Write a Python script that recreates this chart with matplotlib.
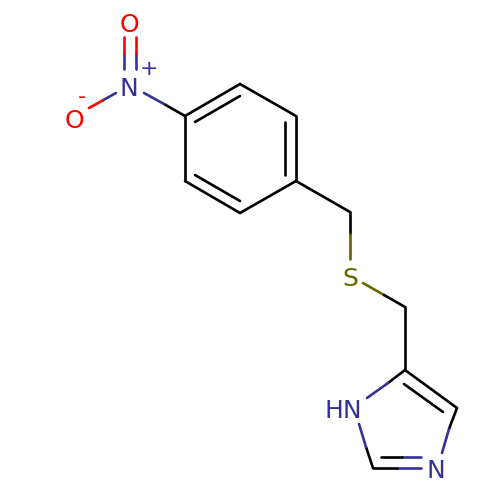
#4-nitrobenzyl thioether imidazole, drawn bond by bond in pixel coordinates

import matplotlib
matplotlib.use("Agg")
import matplotlib.pyplot as plt

BLACK = "#000000"
BLUE = "#333399"
RED = "#ff0000"
OLIVE = "#666600"

# start, end, colour of each bond piece
ring_bonds = [
    ((185,116),(240,84),BLACK), ((240,84),(296,116),BLACK), ((296,116),(296,181),BLACK),
    ((296,181),(240,213),BLACK), ((240,213),(185,181),BLACK), ((185,181),(185,116),BLACK),
    ((195,122),(240,96),BLACK), ((285,122),(285,175),BLACK), ((240,201),(195,175),BLACK),
]
nitro_bonds = [
    ((185,116),(164,104),BLACK), ((164,104),(144,93),BLUE),
    ((124,69),(124,53),BLUE), ((124,53),(124,37),RED),
    ((135.5,69),(135.5,53),BLUE), ((135.5,53),(135.5,37),RED),
    ((116,93),(102.5,100.5),BLUE), ((102.5,100.5),(89,108),RED),
]
linker_bonds = [
    ((296,181),(350,212),BLACK), ((350,212),(350,234),BLACK), ((350,234),(350,259),OLIVE),
    ((363,283),(384,295),OLIVE), ((384,295),(405,307),BLACK), ((405,307),(405,370),BLACK),
]
imidazole_bonds = [
    ((405,370),(388,383),BLACK), ((388,383),(367,398),BLUE),
    ((405,370),(457,408),BLACK), ((404,384),(443,412),BLACK),
    ((457,408),(449,429),BLACK), ((449,429),(442,453),BLUE),
    ((421,468),(397,468),BLUE), ((397,468),(373,468),BLACK),
    ((421,457),(402,457),BLUE), ((402,457),(381,457),BLACK),
    ((373,468),(366,447),BLACK), ((366,447),(359,424),BLUE),
]

# text, x, y, colour
atom_labels = [
    ("O",129,22,RED), ("N",129,86,BLUE), ("O",74,118,RED),
    ("S",350,276,OLIVE), ("HN",343,408,BLUE), ("N",436,468,BLUE),
]
charge_labels = [("+",149,67,BLUE), ("-",82,95,RED)]

fig = plt.figure(figsize=(5,5),dpi=100)
ax = fig.add_axes([0,0,1,1])
ax.set_xlim(0,500)
ax.set_ylim(500,0)
ax.axis("off")

for bonds in [ring_bonds,nitro_bonds,linker_bonds,imidazole_bonds]:
    for a,b,c in bonds:
        ax.plot([a[0],b[0]],[a[1],b[1]],color=c,lw=1.9,solid_capstyle="round")

for t,x,y,c in atom_labels:
    ax.text(x,y,t,color=c,fontsize=18,ha="center",va="center_baseline")
for t,x,y,c in charge_labels:
    ax.text(x,y,t,color=c,fontsize=16,ha="center",va="center_baseline")

fig.savefig("out.png",dpi=100)
